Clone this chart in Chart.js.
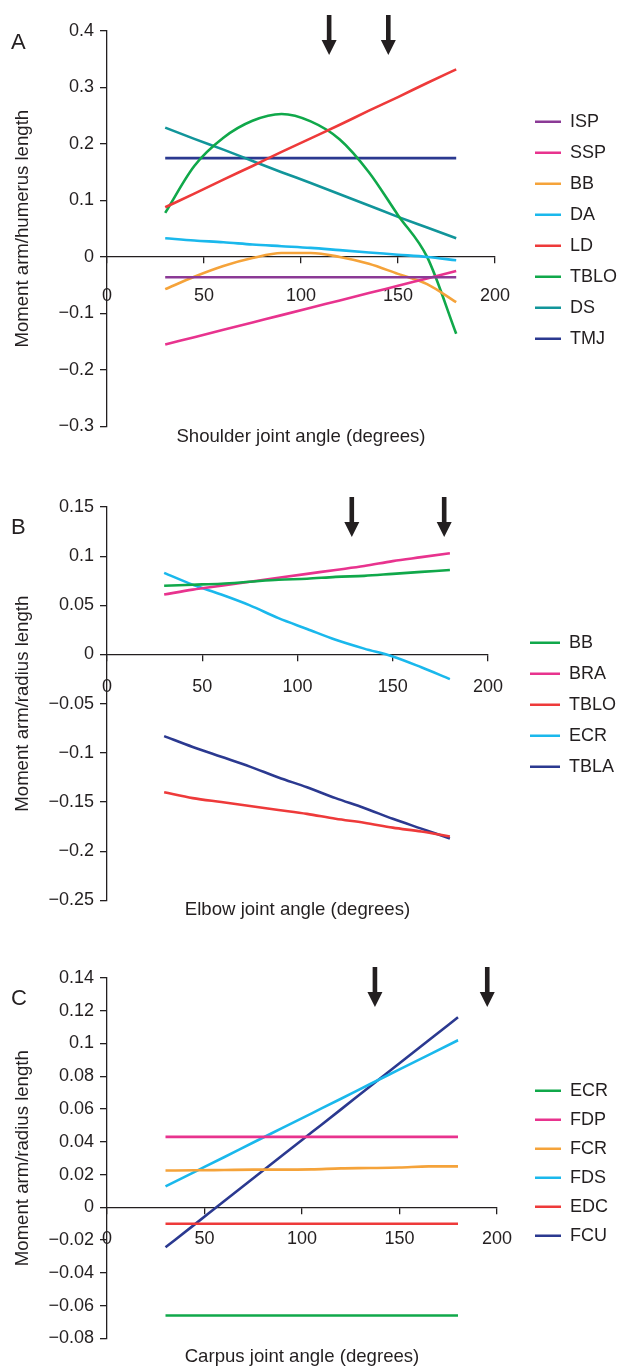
<!DOCTYPE html>
<html><head><meta charset="utf-8">
<script src="https://cdn.jsdelivr.net/npm/chart.js@4.4.1/dist/chart.umd.min.js"></script>
<style>
html,body{margin:0;padding:0;background:#fff;}
.panel{position:relative;width:618px;}
</style></head><body>
<div class="panel" style="height:460px"><canvas id="cA"></canvas></div>
<div class="panel" style="height:460px"><canvas id="cB"></canvas></div>
<div class="panel" style="height:446px"><canvas id="cC"></canvas></div>
<script>
// ---------- data ----------
const angles = [30, 45, 60, 75, 90, 105, 120, 135, 150, 165, 180];
const xTicks = [0, 50, 100, 150, 200];

// Panel A (shoulder)
const yTicksA = [0.4, 0.3, 0.2, 0.1, 0, -0.1, -0.2, -0.3];
const namesA = ['ISP', 'SSP', 'BB', 'DA', 'LD', 'TBLO', 'DS', 'TMJ'];
const A_ISP  = [-0.036,-0.036,-0.036,-0.036,-0.036,-0.036,-0.036,-0.036,-0.036,-0.036,-0.036];
const A_SSP  = [-0.155,-0.142,-0.129,-0.116,-0.103,-0.090,-0.077,-0.064,-0.051,-0.038,-0.025];
const A_BB   = [-0.057,-0.035,-0.016,-0.002,0.007,0.007,0.000,-0.012,-0.030,-0.048,-0.080];
const A_DA   = [0.033,0.029,0.026,0.022,0.019,0.016,0.012,0.008,0.004,0.000,-0.006];
const A_LD   = [0.088,0.112,0.137,0.161,0.186,0.210,0.234,0.259,0.283,0.308,0.332];
const A_TBLO = [0.078,0.161,0.211,0.241,0.253,0.240,0.208,0.150,0.074,0.000,-0.136];
const A_DS   = [0.229,0.209,0.190,0.170,0.150,0.131,0.111,0.091,0.071,0.052,0.033];
const A_TMJ  = [0.175,0.175,0.175,0.175,0.175,0.175,0.175,0.175,0.175,0.175,0.175];
const arrowsA = [114.5, 145];

// Panel B (elbow)
const yTicksB = [0.15, 0.1, 0.05, 0, -0.05, -0.1, -0.15, -0.2, -0.25];
const namesB = ['BB', 'BRA', 'TBLO', 'ECR', 'TBLA'];
const B_BB   = [0.070,0.071,0.072,0.074,0.076,0.077,0.079,0.080,0.082,0.084,0.086];
const B_BRA  = [0.061,0.066,0.070,0.074,0.078,0.082,0.086,0.090,0.095,0.099,0.103];
const B_TBLO = [-0.140,-0.146,-0.150,-0.154,-0.158,-0.162,-0.167,-0.171,-0.176,-0.180,-0.185];
const B_ECR  = [0.083,0.071,0.061,0.050,0.037,0.026,0.015,0.006,-0.002,-0.013,-0.025];
const B_TBLA = [-0.083,-0.094,-0.104,-0.114,-0.125,-0.135,-0.146,-0.156,-0.167,-0.177,-0.187];
const arrowsB = [128.5, 177];

// Panel C (carpus)
const yTicksC = [0.14, 0.12, 0.1, 0.08, 0.06, 0.04, 0.02, 0, -0.02, -0.04, -0.06, -0.08];
const namesC = ['ECR', 'FDP', 'FCR', 'FDS', 'EDC', 'FCU'];
const C_ECR = [-0.066,-0.066,-0.066,-0.066,-0.066,-0.066,-0.066,-0.066,-0.066,-0.066,-0.066];
const C_FDP = [0.043,0.043,0.043,0.043,0.043,0.043,0.043,0.043,0.043,0.043,0.043];
const C_FCR = [0.0225,0.0226,0.0228,0.0230,0.0230,0.0232,0.0238,0.0240,0.0243,0.0250,0.0250];
const C_FDS = [0.0128,0.0217,0.0306,0.0396,0.0485,0.0574,0.0663,0.0753,0.0842,0.0931,0.1020];
const C_EDC = [-0.010,-0.010,-0.010,-0.010,-0.010,-0.010,-0.010,-0.010,-0.010,-0.010,-0.010];
const C_FCU = [-0.0244,-0.0104,0.0037,0.0177,0.0318,0.0458,0.0598,0.0739,0.0879,0.1020,0.1160];
const arrowsC = [137.4, 195];

// ---------- styling ----------
const INK = '#231f20';
const COL = {
  purple:'#8b3a96', magenta:'#e8338e', orange:'#f5a33a', cyan:'#1ab8ec',
  red:'#ee3a3a', green:'#10a84a', teal:'#11959a', navy:'#2b3990'
};
const FONT = "'Liberation Sans', Arial, Helvetica, sans-serif";
Chart.defaults.font.family = FONT;
Chart.defaults.font.size = 18;
Chart.defaults.color = INK;

function fmtY(v) {
  const r = Math.round(v * 1000) / 1000;
  if (r === 0) return '0';
  return (r < 0 ? '\u2212' : '') + String(Math.abs(r));
}

const tweaks = {
  id: 'tweaks',
  beforeLayout(chart, args, opts) {
    const lg = chart.legend;
    if (lg && !lg._tw) {
      const f = lg.fit;
      lg.fit = function () { f.apply(this, arguments); this.width = opts.legendWidth; };
      lg._tw = true;
    }
  },
  afterLayout(chart, args, opts) {
    const lg = chart.legend;
    if (!lg) return;
    lg.left += opts.legendDx; lg.right += opts.legendDx;
    lg.top += opts.legendDy; lg.bottom += opts.legendDy;
  },
  afterDraw(chart, args, opts) {
    const ctx = chart.ctx, xs = chart.scales.x;
    ctx.save();
    ctx.fillStyle = INK;
    const arr = opts.arrows || [];
    for (let i = 0; i < arr.length; i++) {
      const x = xs.getPixelForValue(arr[i]);
      const t = opts.arrowTop;
      ctx.fillRect(x - 2.3, t, 4.6, 27);
      ctx.beginPath();
      ctx.moveTo(x - 7.5, t + 25);
      ctx.lineTo(x + 7.5, t + 25);
      ctx.lineTo(x, t + 40);
      ctx.closePath();
      ctx.fill();
    }
    ctx.font = "22px " + FONT;
    ctx.textBaseline = 'middle';
    ctx.textAlign = 'left';
    ctx.fillText(opts.letter, 11, opts.letterY);
    ctx.restore();
  }
};

function makeChart(id, p) {
  const datasets = p.names.map((n, i) => ({
    label: n,
    data: angles.map((a, k) => ({ x: a, y: p.series[i][k] })),
    borderColor: p.colors[i],
    backgroundColor: p.colors[i],
    borderWidth: 2.6,
    pointRadius: 0,
    cubicInterpolationMode: 'monotone',
    fill: false
  }));
  return new Chart(document.getElementById(id), {
    type: 'line',
    data: { datasets },
    options: {
      responsive: true,
      maintainAspectRatio: false,
      animation: false,
      events: [],
      layout: { padding: { top: p.padTop, bottom: p.padBottom, left: 0, right: 0 } },
      scales: {
        x: {
          type: 'linear', min: 0, max: 200, position: { y: 0 },
          afterBuildTicks: s => { s.ticks = xTicks.map(v => ({ value: v })); },
          ticks: { padding: p.xPad, autoSkip: false, maxRotation: 0, color: INK,
                   callback: v => String(v) },
          grid: { display: true, drawOnChartArea: false, drawTicks: true, tickLength: 6,
                  color: INK, lineWidth: 1.3 },
          border: { display: true, color: INK, width: 1.3 }
        },
        y: {
          type: 'linear', min: p.yTicks[p.yTicks.length - 1], max: p.yTicks[0], position: 'left',
          afterBuildTicks: s => { s.ticks = p.yTicks.map(v => ({ value: v })); },
          afterFit: s => { s.width = 107; },
          ticks: { padding: 6, autoSkip: false, color: INK, callback: fmtY },
          grid: { display: true, drawOnChartArea: false, drawTicks: true, tickLength: 7,
                  color: INK, lineWidth: 1.3 },
          border: { display: true, color: INK, width: 1.3 },
          title: { display: true, text: p.yTitle, color: INK,
                   font: { size: 18.6, lineHeight: 1 }, padding: { top: 14, bottom: 0 } }
        }
      },
      plugins: {
        tooltip: { enabled: false },
        legend: {
          position: 'right', align: 'center', fullSize: false,
          labels: { usePointStyle: true, pointStyle: 'line', pointStyleWidth: p.boxW,
                    padding: p.legPad, color: INK, font: { size: 18 } }
        },
        title: {
          display: true, text: p.xTitle, position: 'bottom', fullSize: false, color: INK,
          font: { size: 18.6, weight: 'normal', lineHeight: 1 },
          padding: { top: p.titlePad, bottom: 0 }
        },
        tweaks: {
          legendWidth: p.legendWidth, legendDx: p.legendDx, legendDy: p.legendDy,
          arrows: p.arrows, arrowTop: p.arrowTop, letter: p.letter, letterY: p.letterY
        }
      }
    },
    plugins: [tweaks]
  });
}

makeChart('cA', {
  names: namesA,
  series: [A_ISP, A_SSP, A_BB, A_DA, A_LD, A_TBLO, A_DS, A_TMJ],
  colors: [COL.purple, COL.magenta, COL.orange, COL.cyan, COL.red, COL.green, COL.teal, COL.navy],
  yTicks: yTicksA, yTitle: 'Moment arm/humerus length', xTitle: 'Shoulder joint angle (degrees)',
  padTop: 31, padBottom: 14, titlePad: 1, xPad: 22,
  legendWidth: 123, legendDx: 27, legendDy: 1.5, boxW: 26, legPad: 13,
  arrows: arrowsA, arrowTop: 15, letter: 'A', letterY: 43
});
makeChart('cB', {
  names: namesB,
  series: [B_BB, B_BRA, B_TBLO, B_ECR, B_TBLA],
  colors: [COL.green, COL.magenta, COL.red, COL.cyan, COL.navy],
  yTicks: yTicksB, yTitle: 'Moment arm/radius length', xTitle: 'Elbow joint angle (degrees)',
  padTop: 47, padBottom: 1, titlePad: 0, xPad: 16,
  legendWidth: 130, legendDx: 29, legendDy: 1, boxW: 30, legPad: 13,
  arrows: arrowsB, arrowTop: 37, letter: 'B', letterY: 68
});
makeChart('cC', {
  names: namesC,
  series: [C_ECR, C_FDP, C_FCR, C_FDS, C_EDC, C_FCU],
  colors: [COL.green, COL.magenta, COL.orange, COL.cyan, COL.red, COL.navy],
  yTicks: yTicksC, yTitle: 'Moment arm/radius length', xTitle: 'Carpus joint angle (degrees)',
  padTop: 58, padBottom: 0, titlePad: 9, xPad: 15,
  legendWidth: 121, legendDx: 27, legendDy: 5, boxW: 26, legPad: 11,
  arrows: arrowsC, arrowTop: 47, letter: 'C', letterY: 79
});
</script>
</body></html>
